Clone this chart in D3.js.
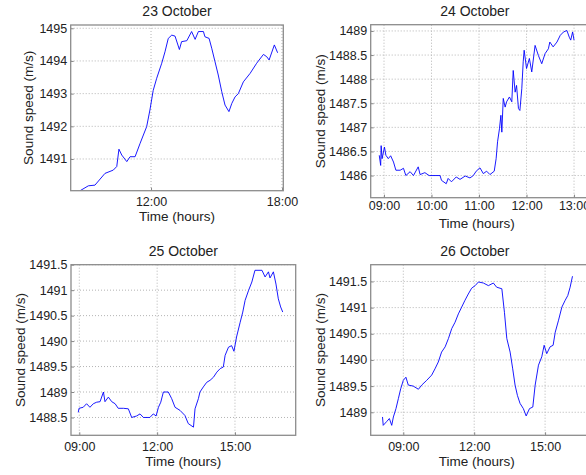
<!DOCTYPE html>
<html>
<head>
<meta charset="utf-8">
<script src="https://cdn.jsdelivr.net/npm/d3@7"></script>
<style>
  body { margin: 0; background: #fff; }
  svg { display: block; font-family: "Liberation Sans", Arial, sans-serif; }
  .grid line { stroke: #b4b4b4; stroke-dasharray: 1 2; }
  .tick text { fill: #222; }
</style>
</head>
<body>
<div id="chart"></div>
<script>
// time of day in decimal hours, sound speed in m/s
const oct23Hours = [8.75, 9.13, 9.43, 9.89, 10.27, 10.43, 10.53, 10.66, 10.89, 11.04, 11.27, 11.5, 11.8, 11.95, 12.1, 12.26, 12.49, 12.64, 12.79, 12.95, 13.1, 13.3, 13.4, 13.64, 13.86, 14.02, 14.17, 14.4, 14.47, 14.66, 14.78, 14.93, 15.08, 15.24, 15.39, 15.57, 15.7, 15.85, 16.0, 16.23, 16.54, 16.84, 17.15, 17.3, 17.41, 17.65, 17.8]
const oct23Speed = [1490.03, 1490.18, 1490.2, 1490.56, 1490.66, 1490.77, 1491.3, 1491.12, 1490.92, 1491.07, 1491.07, 1491.48, 1491.99, 1492.5, 1493.1, 1493.47, 1493.93, 1494.28, 1494.69, 1494.79, 1494.76, 1494.35, 1494.59, 1494.62, 1494.9, 1494.66, 1494.9, 1494.9, 1494.74, 1494.69, 1494.39, 1493.98, 1493.57, 1493.06, 1492.65, 1492.45, 1492.7, 1492.9, 1493.0, 1493.36, 1493.62, 1493.93, 1494.2, 1494.13, 1494.03, 1494.49, 1494.25]

const oct24Hours = [8.9, 8.93, 8.94, 8.96, 9.01, 9.04, 9.09, 9.14, 9.2, 9.25, 9.34, 9.41, 9.46, 9.55, 9.62, 9.72, 9.76, 9.86, 9.95, 10.18, 10.21, 10.31, 10.35, 10.42, 10.52, 10.6, 10.71, 10.81, 10.88, 10.94, 11.02, 11.09, 11.16, 11.23, 11.32, 11.36, 11.39, 11.43, 11.46, 11.48, 11.51, 11.55, 11.58, 11.64, 11.69, 11.72, 11.76, 11.79, 11.83, 11.86, 11.9, 11.93, 11.95, 12.0, 12.06, 12.11, 12.18, 12.25, 12.32, 12.39, 12.46, 12.49, 12.56, 12.64, 12.71, 12.78, 12.85, 12.9, 12.93, 12.97, 13.0]
const oct24Speed = [1486.42, 1486.21, 1486.62, 1486.35, 1486.59, 1486.42, 1486.35, 1486.41, 1486.28, 1486.11, 1486.11, 1486.15, 1486.0, 1486.08, 1486.0, 1486.18, 1486.02, 1486.06, 1486.0, 1486.0, 1485.9, 1485.83, 1485.94, 1485.87, 1485.97, 1485.92, 1485.99, 1485.95, 1486.0, 1486.09, 1486.16, 1486.04, 1486.09, 1486.02, 1486.09, 1486.35, 1486.7, 1486.97, 1487.25, 1486.9, 1487.6, 1487.42, 1487.53, 1487.63, 1487.53, 1488.18, 1487.73, 1487.87, 1487.39, 1487.35, 1487.8, 1488.36, 1488.6, 1488.22, 1488.43, 1488.15, 1488.7, 1488.49, 1488.32, 1488.53, 1488.63, 1488.77, 1488.67, 1488.77, 1488.91, 1488.98, 1489.01, 1488.87, 1488.81, 1488.98, 1488.81]

const oct25Hours = [8.96, 8.99, 9.15, 9.28, 9.41, 9.54, 9.67, 9.8, 9.93, 9.99, 10.12, 10.25, 10.38, 10.5, 10.7, 10.89, 11.02, 11.21, 11.34, 11.47, 11.72, 11.85, 11.96, 12.05, 12.14, 12.24, 12.43, 12.56, 12.69, 12.88, 13.07, 13.2, 13.4, 13.46, 13.59, 13.65, 13.78, 13.91, 14.04, 14.17, 14.3, 14.43, 14.55, 14.62, 14.75, 14.87, 14.96, 15.06, 15.2, 15.3, 15.39, 15.52, 15.65, 15.77, 16.04, 16.16, 16.29, 16.35, 16.48, 16.58, 16.67, 16.76, 16.84]
const oct25Speed = [1488.6, 1488.68, 1488.7, 1488.77, 1488.7, 1488.77, 1488.8, 1488.81, 1489.0, 1488.81, 1488.9, 1488.81, 1488.77, 1488.68, 1488.68, 1488.67, 1488.5, 1488.53, 1488.57, 1488.5, 1488.5, 1488.57, 1488.53, 1488.7, 1488.8, 1489.0, 1489.0, 1488.87, 1488.7, 1488.64, 1488.54, 1488.38, 1488.31, 1488.67, 1488.87, 1489.0, 1489.1, 1489.19, 1489.23, 1489.29, 1489.39, 1489.46, 1489.49, 1489.72, 1489.88, 1489.91, 1489.8, 1490.08, 1490.37, 1490.57, 1490.8, 1490.99, 1491.16, 1491.39, 1491.39, 1491.26, 1491.36, 1491.24, 1491.36, 1491.12, 1490.83, 1490.67, 1490.57]

const oct26Hours = [8.12, 8.15, 8.29, 8.41, 8.51, 8.58, 8.69, 8.79, 8.89, 9.0, 9.11, 9.21, 9.42, 9.64, 9.78, 9.99, 10.2, 10.34, 10.48, 10.62, 10.77, 10.91, 11.05, 11.19, 11.33, 11.47, 11.61, 11.75, 11.89, 12.04, 12.18, 12.39, 12.6, 12.81, 12.95, 13.17, 13.28, 13.38, 13.52, 13.63, 13.73, 13.83, 13.94, 14.08, 14.2, 14.34, 14.48, 14.58, 14.72, 14.86, 14.96, 15.07, 15.21, 15.34, 15.43, 15.57, 15.71, 15.85, 15.96, 16.06, 16.16]
const oct26Speed = [1488.91, 1488.75, 1488.82, 1488.88, 1488.75, 1488.91, 1489.07, 1489.26, 1489.45, 1489.61, 1489.67, 1489.52, 1489.5, 1489.44, 1489.52, 1489.61, 1489.71, 1489.83, 1489.96, 1490.15, 1490.25, 1490.41, 1490.6, 1490.72, 1490.88, 1491.01, 1491.14, 1491.26, 1491.37, 1491.42, 1491.49, 1491.47, 1491.42, 1491.47, 1491.39, 1491.36, 1490.91, 1490.41, 1490.15, 1489.83, 1489.52, 1489.32, 1489.17, 1489.07, 1488.93, 1489.07, 1489.1, 1489.52, 1489.9, 1490.06, 1490.28, 1490.12, 1490.25, 1490.28, 1490.53, 1490.76, 1491.01, 1491.14, 1491.23, 1491.39, 1491.6]

const titles = ['23 October', '24 October', '25 October', '26 October']
const xTicks = [[12, 18], [9, 10, 11, 12, 13], [9, 12, 15], [9, 12, 15]]
const yTicks = [
  [1491, 1492, 1493, 1494, 1495],
  [1486, 1486.5, 1487, 1487.5, 1488, 1488.5, 1489],
  [1488.5, 1489, 1489.5, 1490, 1490.5, 1491, 1491.5],
  [1489, 1489.5, 1490, 1490.5, 1491, 1491.5]
]

const W = 586
const H = 475

// panel boxes (left, right, top, bottom) and axis domains
const panels = [
  {box: [70.7, 283.3, 25, 190.7], xd: [8.32, 18.06], yd: [1490.03, 1495.1], hours: oct23Hours, speed: oct23Speed, xtY: 206.5, xlY: 220.5, ylX: 32.5, titleY: 16},
  {box: [370.7, 594, 24.7, 197.7], xd: [8.72, 13.42], yd: [1485.54, 1489.13], hours: oct24Hours, speed: oct24Speed, xtY: 210.5, xlY: 227.5, ylX: 325, titleY: 16},
  {box: [71, 295.7, 264.7, 435.3], xd: [8.68, 17.34], yd: [1488.15, 1491.5], hours: oct25Hours, speed: oct25Speed, xtY: 451, xlY: 466, ylX: 24.5, titleY: 255.5},
  {box: [370.7, 594, 264.7, 435.3], xd: [7.62, 17.07], yd: [1488.56, 1491.82], hours: oct26Hours, speed: oct26Speed, xtY: 451, xlY: 466, ylX: 325, titleY: 255.5}
]

const fmtHour = h => String(h).padStart(2, '0') + ':00'

const svg = d3.select('#chart').append('svg')
  .attr('width', W)
  .attr('height', H)

panels.forEach((p, i) => {
  const [x0, x1, y0, y1] = p.box
  const x = d3.scaleLinear().domain(p.xd).range([x0, x1])
  const y = d3.scaleLinear().domain(p.yd).range([y1, y0])
  const g = svg.append('g')

  // dotted grid
  g.append('g')
    .attr('class', 'grid')
    .selectAll('line.gx')
    .data(xTicks[i])
    .enter().append('line')
    .attr('x1', d => x(d)).attr('x2', d => x(d))
    .attr('y1', y0).attr('y2', y1)

  g.append('g')
    .attr('class', 'grid')
    .selectAll('line.gy')
    .data(yTicks[i])
    .enter().append('line')
    .attr('x1', x0).attr('x2', x1)
    .attr('y1', d => y(d)).attr('y2', d => y(d))

  const line = d3.line()
    .x((d, k) => x(p.hours[k]))
    .y(d => y(d))

  g.append('path')
    .datum(p.speed)
    .attr('fill', 'none')
    .attr('stroke', '#0000ff')
    .attr('stroke-width', 0.9)
    .attr('d', line)

  // axes with inward ticks, no domain line
  const ax = g.append('g')
    .attr('transform', 'translate(0,' + y1 + ')')
    .call(d3.axisBottom(x).tickValues(xTicks[i]).tickFormat(fmtHour).tickSize(-3).tickPadding(7))
  ax.select('.domain').remove()
  ax.selectAll('.tick line').attr('stroke', '#888')
  ax.selectAll('.tick text').attr('font-size', 12.5).attr('dy', null)
    .attr('y', p.xtY - y1)

  const ay = g.append('g')
    .attr('transform', 'translate(' + x0 + ',0)')
    .call(d3.axisLeft(y).tickValues(yTicks[i]).tickFormat(d3.format('')).tickSize(-3).tickPadding(4))
  ay.select('.domain').remove()
  ay.selectAll('.tick line').attr('stroke', '#888')
  ay.selectAll('.tick text').attr('font-size', 12.5).attr('x', -3.5)

  // box
  g.append('rect')
    .attr('x', x0).attr('y', y0)
    .attr('width', x1 - x0).attr('height', y1 - y0)
    .attr('fill', 'none')
    .attr('stroke', '#8c8c8c')
    .attr('stroke-width', 1.3)

  g.append('text')
    .attr('x', (x0 + Math.min(x1, 583)) / 2 + (i % 2 ? -2 : 0))
    .attr('y', p.titleY)
    .attr('text-anchor', 'middle')
    .attr('font-size', 14)
    .attr('fill', '#222')
    .text(titles[i])

  g.append('text')
    .attr('x', (x0 + Math.min(x1, 583)) / 2)
    .attr('y', p.xlY)
    .attr('text-anchor', 'middle')
    .attr('font-size', 13.5)
    .attr('fill', '#222')
    .text('Time (hours)')

  g.append('text')
    .attr('transform', 'translate(' + p.ylX + ',' + (y0 + y1) / 2 + ') rotate(-90)')
    .attr('text-anchor', 'middle')
    .attr('font-size', 13.5)
    .attr('fill', '#222')
    .text('Sound speed (m/s)')
})
</script>
</body>
</html>
